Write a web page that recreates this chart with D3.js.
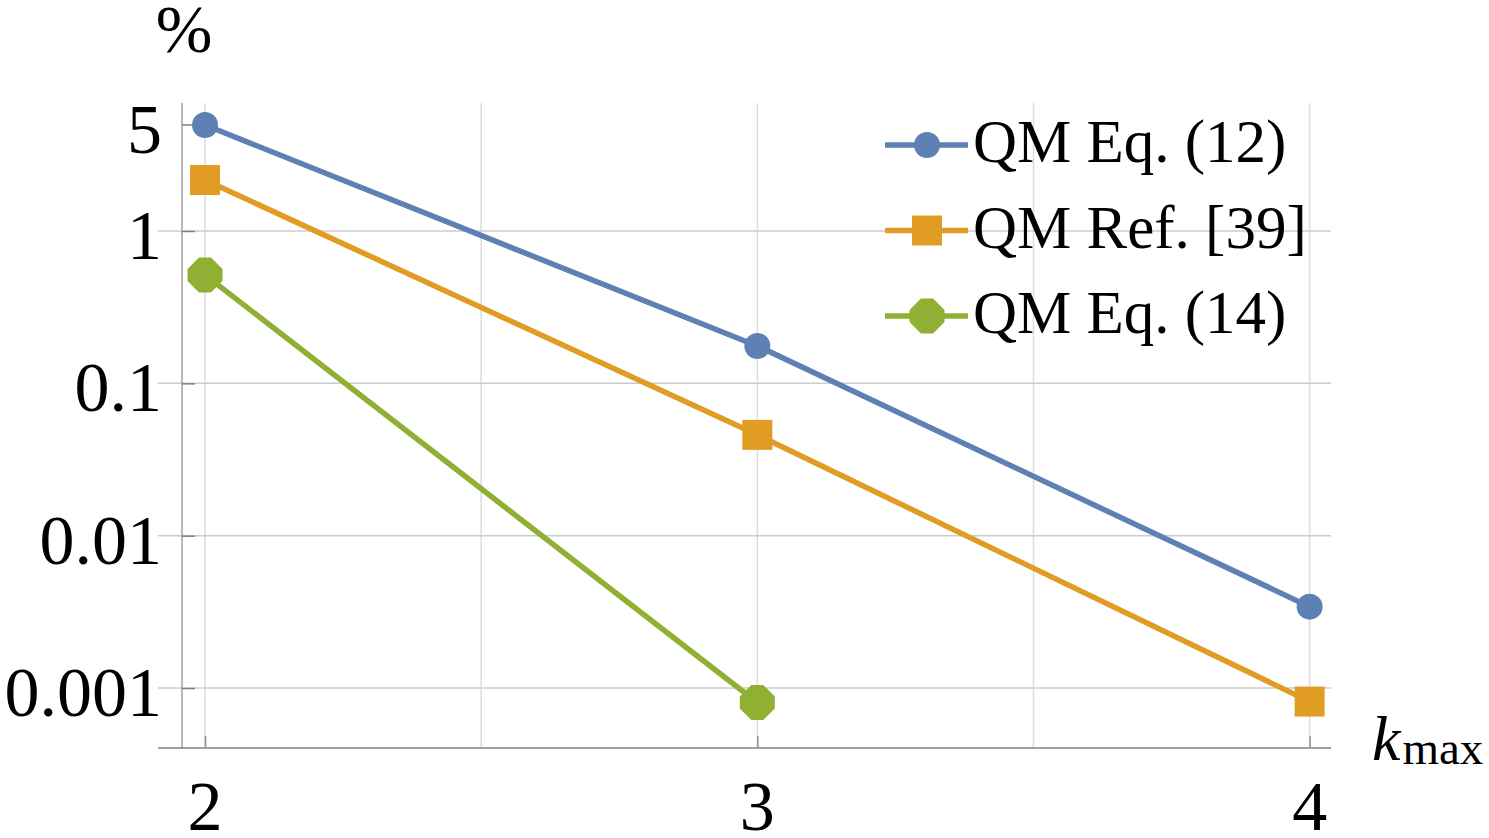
<!DOCTYPE html>
<html>
<head>
<meta charset="utf-8">
<script src="https://cdn.jsdelivr.net/npm/d3@7"></script>
<style>
  body { margin: 0; background: #fff; }
  text { font-family: "Liberation Serif", "DejaVu Serif", serif; fill: #000; }
</style>
</head>
<body>
<div id="chart"></div>
<script>
// Data
const kValues = [2, 3, 4];
const eq12 = [4.96, 0.176, 0.00342];
const ref39 = [2.16, 0.0459, 0.000815];
const eq14 = [0.515, 0.000803];
const seriesNames = ["QM Eq. (12)", "QM Ref. [39]", "QM Eq. (14)"];
const seriesColors = ["#5e81b5", "#e19c24", "#8fb032"];
const xTicks = [2, 3, 4];
const xGrid = [2, 2.5, 3, 3.5, 4];
const yTicks = [5, 1, 0.1, 0.01, 0.001];
const yGrid = [1, 0.1, 0.01, 0.001];
const yTickLabels = ["5", "1", "0.1", "0.01", "0.001"];

const W = 1489, H = 838;
const plot = { left: 182, right: 1331, top: 103, bottom: 748 };

const svg = d3.select("#chart").append("svg")
  .attr("width", W).attr("height", H);

const xScale = d3.scaleLinear()
  .domain([1.9583, 4.0387])
  .range([plot.left, plot.right]);

const yScale = d3.scaleLog()
  .domain([0.000404, 6.92])
  .range([plot.bottom, plot.top]);

// grid lines
svg.selectAll(".vgrid").data(xGrid).enter().append("line")
  .attr("class", "vgrid")
  .attr("x1", d => xScale(d)).attr("x2", d => xScale(d))
  .attr("y1", plot.top).attr("y2", plot.bottom)
  .attr("stroke", "#dcdcdc").attr("stroke-width", 1.5);

svg.selectAll(".hgrid").data(yGrid).enter().append("line")
  .attr("class", "hgrid")
  .attr("x1", 158).attr("x2", plot.right)
  .attr("y1", d => yScale(d)).attr("y2", d => yScale(d))
  .attr("stroke", "#cccccc").attr("stroke-width", 1.5);

// axes
const yAxis = svg.append("g")
  .attr("transform", `translate(${plot.left},0)`)
  .call(d3.axisRight(yScale).tickValues(yTicks).tickSize(13).tickFormat(""));
yAxis.select(".domain").attr("d", `M0,${plot.top}V${plot.bottom}`)
  .attr("stroke", "#a0a0a0").attr("stroke-width", 1.5);
yAxis.selectAll(".tick line").attr("stroke", "#808080").attr("stroke-width", 1.5);

const xAxis = svg.append("g")
  .attr("transform", `translate(0,${plot.bottom})`)
  .call(d3.axisTop(xScale).tickValues(xTicks).tickSize(12).tickFormat(""));
xAxis.select(".domain").attr("d", `M158,0H${plot.right}`)
  .attr("stroke", "#808080").attr("stroke-width", 1.5);
xAxis.selectAll(".tick line").attr("stroke", "#909090").attr("stroke-width", 1.5);

// tick labels
svg.selectAll(".ylab").data(yTicks).enter().append("text")
  .attr("class", "ylab")
  .attr("x", 162)
  .attr("y", d => yScale(d) + 28)
  .attr("text-anchor", "end")
  .style("font-size", "70px")
  .text((d, i) => yTickLabels[i]);

svg.selectAll(".xlab").data(xTicks).enter().append("text")
  .attr("class", "xlab")
  .attr("x", d => xScale(d))
  .attr("y", 830)
  .attr("text-anchor", "middle")
  .style("font-size", "70px")
  .text(d => d);

// axis labels
svg.append("text")
  .attr("x", 184).attr("y", 52)
  .attr("text-anchor", "middle")
  .style("font-size", "68px")
  .text("%");

const kLabel = svg.append("text")
  .attr("x", 1372).attr("y", 760)
  .style("font-size", "64px");
kLabel.append("tspan").style("font-style", "italic").text("k");
kLabel.append("tspan").attr("dx", 2).attr("dy", 4).style("font-size", "47px").text("max");

// marker shapes
function drawMarker(g, type, color) {
  if (type === 0) {
    g.append("circle").attr("r", 13).attr("fill", color);
  } else if (type === 1) {
    g.append("rect").attr("x", -15).attr("y", -15)
      .attr("width", 30).attr("height", 30).attr("fill", color);
  } else {
    const h = 17.5, f = 6;
    const pts = [[-f, -h], [f, -h], [h, -f], [h, f], [f, h], [-f, h], [-h, f], [-h, -f]];
    g.append("polygon").attr("points", pts.map(p => p.join(",")).join(" ")).attr("fill", color);
  }
}

const allSeries = [eq12, ref39, eq14];
const line = d3.line()
  .x(d => xScale(d.k))
  .y(d => yScale(d.v));

allSeries.forEach((vals, si) => {
  const pts = vals.map((v, i) => ({ k: kValues[i], v: v }));
  svg.append("path")
    .datum(pts)
    .attr("d", line)
    .attr("fill", "none")
    .attr("stroke", seriesColors[si])
    .attr("stroke-width", 5.5);
  pts.forEach(p => {
    const g = svg.append("g")
      .attr("transform", `translate(${xScale(p.k)},${yScale(p.v)})`);
    drawMarker(g, si, seriesColors[si]);
  });
});

// legend
const legendY = [145, 230.5, 316];
seriesNames.forEach((name, i) => {
  const g = svg.append("g").attr("transform", `translate(0,${legendY[i]})`);
  g.append("line")
    .attr("x1", 885).attr("x2", 968)
    .attr("stroke", seriesColors[i]).attr("stroke-width", 5.5);
  const m = g.append("g").attr("transform", "translate(927,0)");
  drawMarker(m, i, seriesColors[i]);
  g.append("text")
    .attr("x", 973).attr("y", 17)
    .style("font-size", "61px")
    .text(name);
});
</script>
</body>
</html>
